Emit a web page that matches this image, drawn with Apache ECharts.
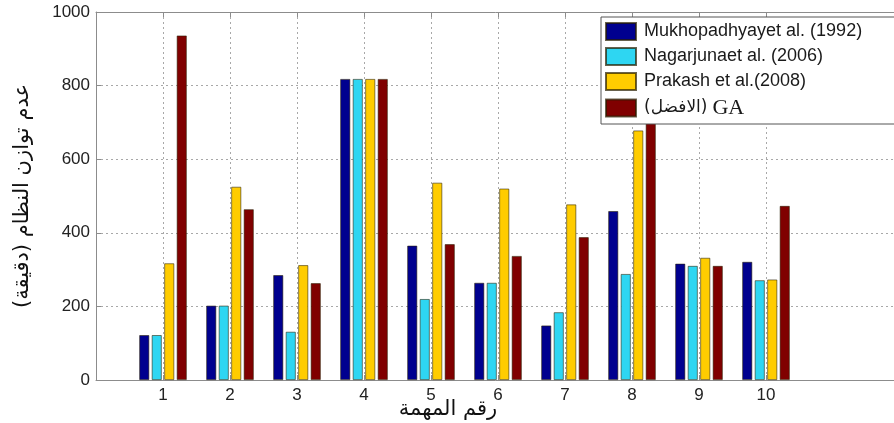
<!DOCTYPE html>
<html>
<head>
<meta charset="utf-8">
<script src="https://cdn.jsdelivr.net/npm/echarts@6/dist/echarts.min.js"></script>
<style>
  html, body { margin: 0; padding: 0; background: #fff; }
  #chart { width: 894px; height: 423px; }
</style>
</head>
<body>
<div id="chart"></div>
<script>
// Task numbers shown on the x axis
const tasks = ['1', '2', '3', '4', '5', '6', '7', '8', '9', '10'];
// System imbalance (minutes) per method
const mukhopadhyay = [122, 202, 285, 818, 365, 264, 148, 459, 316, 321];
const nagarjuna    = [122, 202, 131, 818, 220, 264, 184, 288, 310, 271];
const prakash      = [317, 525, 312, 818, 536, 520, 477, 678, 332, 273];
const gaBest       = [936, 464, 263, 818, 369, 337, 388, 760, 310, 473];
const seriesNames = ['Mukhopadhyayet al. (1992)', 'Nagarjunaet al. (2006)', 'Prakash et al.(2008)', 'GA'];
const yTicks = [0, 200, 400, 600, 800, 1000];

// Axis spans 0..12 with ticks only on the task positions
const cats = [''].concat(tasks, ['', '']);
const pad = arr => [null].concat(arr, [null, null]);
const isTask = (i, v) => v !== '';

const colors = ['#00008F', '#2ED6F2', '#FFCC00', '#800000'];
const valuesList = [mukhopadhyay, nagarjuna, prakash, gaBest];

const chart = echarts.init(document.getElementById('chart'));
const axisGray = '#8c8c8c';

chart.setOption({
  animation: false,
  backgroundColor: '#ffffff',
  grid: { left: 96, top: 12, width: 804, height: 368, containLabel: false, outerBoundsMode: 'none' },
  legend: {
    orient: 'vertical',
    left: 601, top: 17,
    itemWidth: 30, itemHeight: 17, itemGap: 6,
    padding: [5, 40, 5, 4],
    backgroundColor: '#ffffff',
    borderColor: '#555', borderWidth: 1,
    icon: 'rect',
    data: seriesNames,
    formatter: name => name === 'GA' ? '{ar|(الافضل)} {lat|GA}' : name,
    textStyle: {
      fontFamily: 'Liberation Sans, Arial', fontSize: 18, color: '#1a1a1a', padding: [0, 0, 0, 3],
      rich: {
        ar: { fontFamily: 'DejaVu Sans', fontSize: 17, color: '#1a1a1a' },
        lat: { fontFamily: 'Liberation Serif, Times New Roman', fontSize: 22, color: '#1a1a1a' }
      }
    }
  },
  xAxis: [{
    type: 'category',
    data: cats,
    boundaryGap: false,
    position: 'bottom',
    name: 'رقم المهمة',
    nameLocation: 'middle',
    nameGap: 19,
    nameMoveOverlap: false,
    nameTextStyle: { fontFamily: 'DejaVu Sans', fontSize: 21, color: '#111', padding: [0, 100, 0, 0] },
    axisLine: { show: true, lineStyle: { color: axisGray, width: 1 } },
    axisTick: { show: true, inside: true, length: 5, interval: isTask, lineStyle: { color: axisGray } },
    axisLabel: { interval: 0, margin: 7, fontFamily: 'Liberation Sans, Arial', fontSize: 17, color: '#222' },
    splitLine: { show: true, interval: isTask, lineStyle: { color: '#a8a8a8', type: [2, 3], width: 1 } }
  }, {
    type: 'category',
    data: cats,
    boundaryGap: false,
    position: 'top',
    axisLine: { show: true, lineStyle: { color: axisGray, width: 1 } },
    axisTick: { show: true, inside: true, length: 5, interval: isTask, lineStyle: { color: axisGray } },
    axisLabel: { show: false },
    splitLine: { show: false }
  }],
  yAxis: {
    type: 'value',
    min: 0, max: 1000, interval: 200,
    name: 'عدم توازن النظام (دقيقة)',
    nameLocation: 'middle',
    nameRotate: 90,
    nameGap: 63,
    nameTextStyle: { fontFamily: 'DejaVu Sans', fontSize: 21, color: '#111' },
    axisLine: { show: true, lineStyle: { color: axisGray, width: 1 } },
    axisTick: { show: true, inside: true, length: 5, lineStyle: { color: axisGray } },
    axisLabel: {
      margin: 6, fontFamily: 'Liberation Sans, Arial', fontSize: 17, color: '#222',
      formatter: v => yTicks.includes(v) ? String(v) : ''
    },
    splitLine: { show: true, lineStyle: { color: '#a8a8a8', type: [2, 3], width: 1 } }
  },
  series: seriesNames.map((name, i) => ({
    name: name,
    type: 'bar',
    xAxisIndex: 0,
    data: pad(valuesList[i]),
    barWidth: 10,
    barGap: '25%',
    itemStyle: { color: colors[i], borderColor: 'rgba(40,30,0,0.7)', borderWidth: 0.8 }
  }))
});
</script>
</body>
</html>
